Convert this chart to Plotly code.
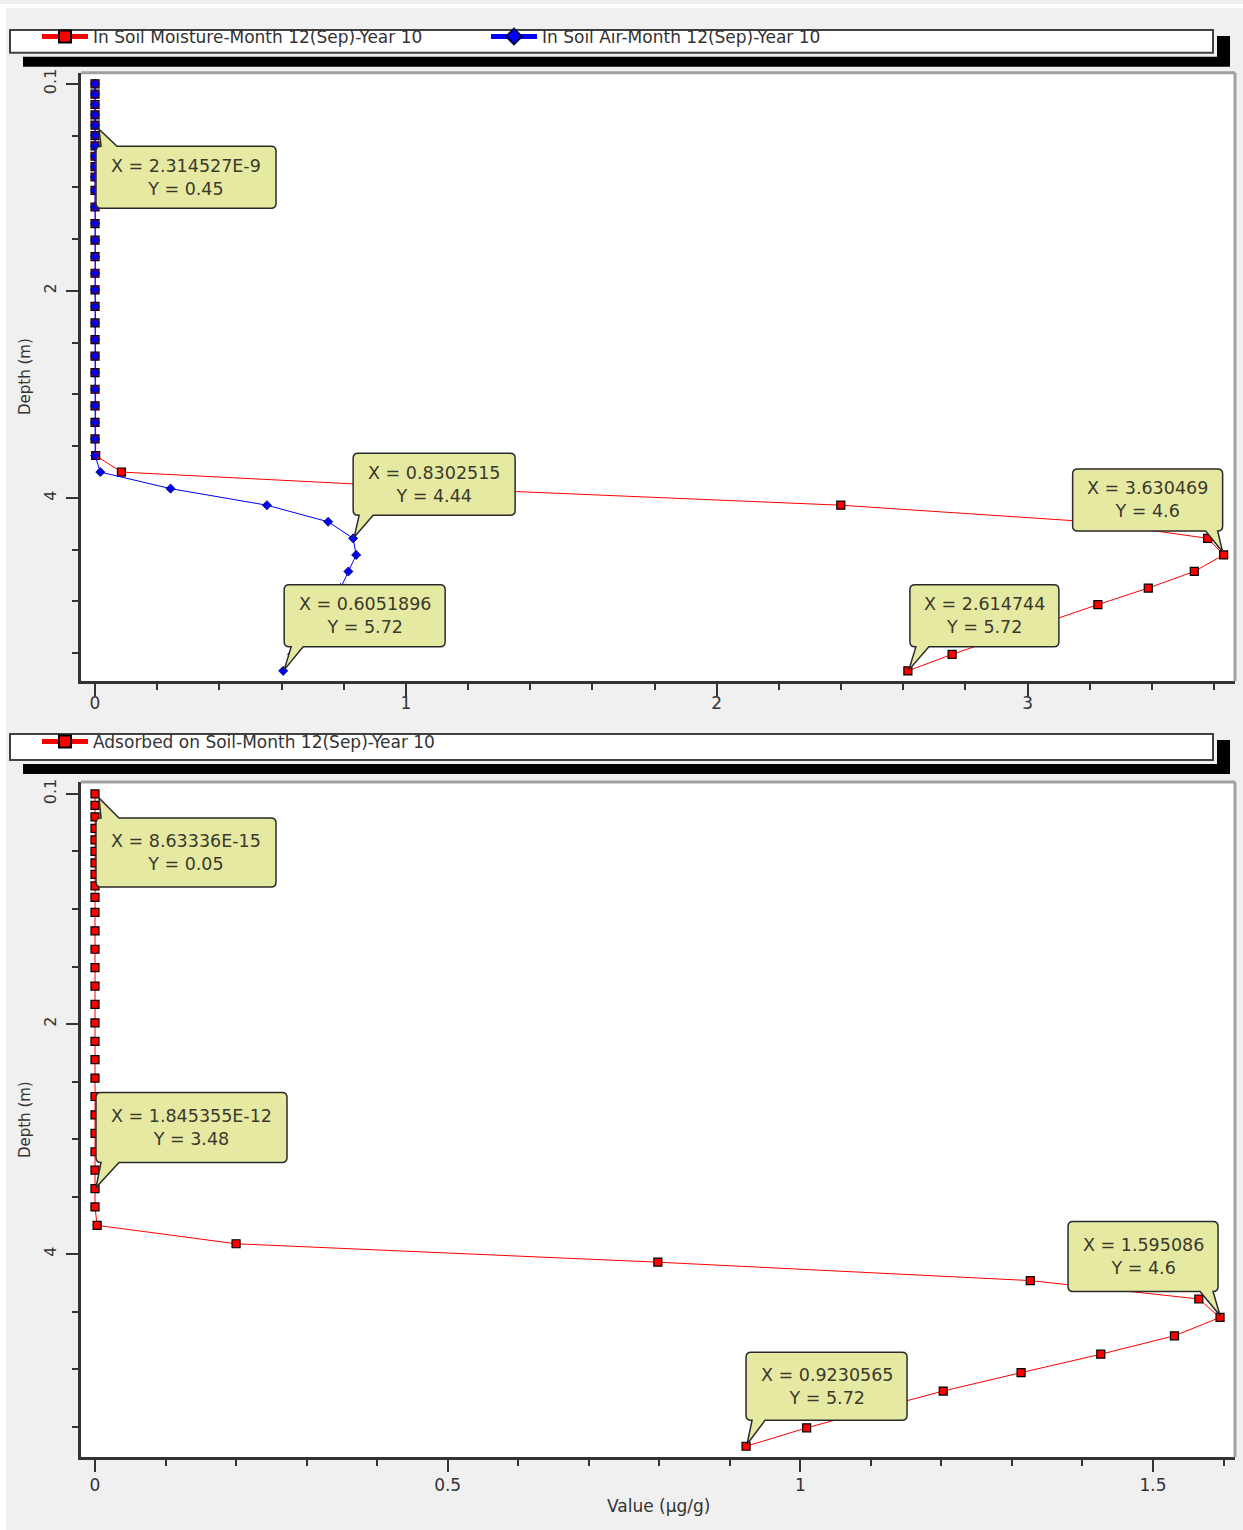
import plotly.graph_objects as go

# ---- data -------------------------------------------------------------
depth_m = [0.05, 0.15, 0.25, 0.35, 0.45, 0.55, 0.65, 0.75, 0.85, 0.95,
           1.08, 1.24, 1.40, 1.56, 1.72, 1.88, 2.04, 2.20, 2.36, 2.52,
           2.68, 2.84, 3.00, 3.16, 3.32, 3.48, 3.64, 3.80, 3.96, 4.12,
           4.28, 4.44, 4.60, 4.76, 4.92, 5.08, 5.24, 5.40, 5.56, 5.72]

soil_moisture = [4.1e-11, 2.2e-10, 6.8e-10, 1.4e-9, 2.314527e-9, 3.5e-9, 4.9e-9, 6.6e-9, 8.5e-9, 1.07e-8,
                 1.38e-8, 1.8e-8, 2.3e-8, 2.9e-8, 3.6e-8, 4.4e-8, 5.4e-8, 6.6e-8, 8.1e-8, 1.0e-7,
                 1.3e-7, 1.8e-7, 2.9e-7, 6.1e-7, 2.4e-6, 3.3e-5, 0.0021, 0.085, 1.13, 2.399,
                 3.20, 3.579, 3.630469, 3.536, 3.388, 3.226, 3.07, 2.915, 2.757, 2.614744]

soil_air = [9.4e-12, 5.0e-11, 1.6e-10, 3.2e-10, 5.3e-10, 8.0e-10, 1.1e-9, 1.5e-9, 1.9e-9, 2.4e-9,
            3.1e-9, 4.1e-9, 5.2e-9, 6.6e-9, 8.2e-9, 1.0e-8, 1.2e-8, 1.5e-8, 1.8e-8, 2.3e-8,
            3.0e-8, 4.1e-8, 6.6e-8, 1.4e-7, 5.5e-7, 7.5e-6, 0.0004, 0.017, 0.243, 0.553,
            0.750, 0.8302515, 0.840, 0.815, 0.790, 0.765, 0.730, 0.685, 0.634, 0.6051896]

adsorbed = [8.63336e-15, 1.05e-14, 1.28e-14, 1.55e-14, 1.88e-14, 2.27e-14, 2.75e-14, 3.33e-14, 4.03e-14, 4.88e-14,
            6.2e-14, 8.1e-14, 1.06e-13, 1.38e-13, 1.8e-13, 2.35e-13, 3.06e-13, 3.99e-13, 5.2e-13, 6.78e-13,
            8.84e-13, 1.05e-12, 1.23e-12, 1.42e-12, 1.62e-12, 1.845355e-12, 2.1e-6, 0.003, 0.200, 0.798,
            1.326, 1.565, 1.595086, 1.5305, 1.426, 1.313, 1.2026, 1.105, 1.009, 0.9230565]

name_moisture = "In Soil Moisture-Month 12(Sep)-Year 10"
name_air = "In Soil Air-Month 12(Sep)-Year 10"
name_adsorbed = "Adsorbed on Soil-Month 12(Sep)-Year 10"

depth_tick_vals = [0.05, 2.05, 4.05]
depth_tick_text = ["0.1", "2", "4"]
top_x_ticks = [0, 1, 2, 3]
bottom_x_ticks = [0, 0.5, 1, 1.5]
bottom_x_text = ["0", "0.5", "1", "1.5"]

# ---- page geometry (pixels) -------------------------------------------
W, H = 1243, 1530
BG = "#f0f0f0"
INK = "#333333"
FONT = "DejaVu Sans"


def px(x):
    return x / W


def py(y):
    return 1 - y / H


fig = go.Figure()

fig.add_trace(go.Scatter(
    x=soil_moisture, y=depth_m, name=name_moisture, mode="lines+markers",
    line=dict(color="#ff0000", width=1),
    marker=dict(symbol="square", size=8, color="#ff0000", line=dict(color="black", width=1.2)),
    xaxis="x", yaxis="y", legend="legend"))
fig.add_trace(go.Scatter(
    x=soil_air, y=depth_m, name=name_air, mode="lines+markers",
    line=dict(color="#0000ff", width=1),
    marker=dict(symbol="diamond", size=7, color="#0000ff", line=dict(color="#000040", width=0.8)),
    xaxis="x", yaxis="y", legend="legend"))
fig.add_trace(go.Scatter(
    x=adsorbed, y=depth_m, name=name_adsorbed, mode="lines+markers",
    line=dict(color="#ff0000", width=1),
    marker=dict(symbol="square", size=8, color="#ff0000", line=dict(color="black", width=1.2)),
    xaxis="x2", yaxis="y2", legend="legend2"))

tick_common = dict(ticks="outside", tickwidth=2, tickcolor=INK, showgrid=False, zeroline=False,
                   showline=True, linecolor=INK, linewidth=3)

fig.update_layout(
    width=W, height=H, margin=dict(l=0, r=0, t=0, b=0),
    paper_bgcolor=BG, plot_bgcolor="white",
    font=dict(family=FONT, color=INK),
    showlegend=True,
    xaxis=dict(domain=[px(81), px(1235)], anchor="y", range=[-0.0451, 3.667],
               tickvals=top_x_ticks, ticklen=12, tickfont=dict(size=17), ticklabelstandoff=-8,
               minor=dict(dtick=0.2, tick0=0, ticklen=6, tickwidth=2, tickcolor=INK, ticks="outside", showgrid=False),
               **tick_common),
    yaxis=dict(domain=[py(679), py(69)], anchor="x", range=[5.82, -0.056],
               tickvals=depth_tick_vals, ticktext=depth_tick_text, tickangle=-90, ticklen=12,
               tickfont=dict(size=16), ticklabelstandoff=4,
               minor=dict(dtick=0.5, tick0=0.05, ticklen=6, tickwidth=2, tickcolor=INK, ticks="outside", showgrid=False),
               **tick_common),
    xaxis2=dict(domain=[px(81), px(1235)], anchor="y2", range=[-0.01985, 1.6163],
                tickvals=bottom_x_ticks, ticktext=bottom_x_text, ticklen=12, tickfont=dict(size=17),
                ticklabelstandoff=-2,
                minor=dict(dtick=0.1, tick0=0, ticklen=6, tickwidth=2, tickcolor=INK, ticks="outside", showgrid=False),
                **tick_common),
    yaxis2=dict(domain=[py(1457), py(780)], anchor="x2", range=[5.815, -0.054],
                tickvals=depth_tick_vals, ticktext=depth_tick_text, tickangle=-90, ticklen=12,
                tickfont=dict(size=16), ticklabelstandoff=4,
                minor=dict(dtick=0.5, tick0=0.05, ticklen=6, tickwidth=2, tickcolor=INK, ticks="outside", showgrid=False),
                **tick_common),
    legend=dict(x=px(37), y=py(33), xanchor="left", yanchor="middle", orientation="h",
                bgcolor="rgba(0,0,0,0)", borderwidth=0, font=dict(size=17, color=INK),
                itemsizing="constant", itemwidth=46, entrywidth=388, entrywidthmode="pixels"),
    legend2=dict(x=px(37), y=py(740), xanchor="left", yanchor="middle", orientation="h",
                 bgcolor="rgba(0,0,0,0)", borderwidth=0, font=dict(size=17, color=INK),
                 itemsizing="constant", itemwidth=46),
)

shapes = []
# white strips at the left and top edges of the window
shapes.append(dict(type="rect", xref="paper", yref="paper", x0=0, x1=px(6), y0=0, y1=1,
                   fillcolor="white", line=dict(width=0), layer="below"))
shapes.append(dict(type="rect", xref="paper", yref="paper", x0=0, x1=1, y0=py(4), y1=1,
                   fillcolor="white", line=dict(width=0), layer="below"))

# legend frames with their black drop shadows
for top, bot in [(26, 49), (732, 758)]:
    shapes.append(dict(type="rect", xref="paper", yref="paper", x0=px(23), x1=px(1230),
                       y0=py(bot + 14), y1=py(top + 6), fillcolor="black", line=dict(width=0)))
    shapes.append(dict(type="rect", xref="paper", yref="paper", x0=px(6), x1=px(1217),
                       y0=py(bot + 4), y1=py(top - 4), fillcolor=BG, line=dict(width=0)))
    shapes.append(dict(type="rect", xref="paper", yref="paper", x0=px(10), x1=px(1213),
                       y0=py(bot), y1=py(top), fillcolor="white", line=dict(color="#404040", width=2)))

# grey top/right frame of each plot area
for xa, ya in [("x", "y"), ("x2", "y2")]:
    shapes.append(dict(type="line", xref=f"{xa} domain", yref=f"{ya} domain", x0=0, x1=1, y0=1, y1=1,
                       line=dict(color="#a0a0a0", width=3)))
    shapes.append(dict(type="line", xref=f"{xa} domain", yref=f"{ya} domain", x0=1, x1=1, y0=0, y1=1,
                       line=dict(color="#a0a0a0", width=3)))


def fmt(v):
    s = f"{v:.7G}"
    return s.replace("E-0", "E-").replace("E+0", "E+")


def callout_path(l, t, r, b, side, b1, b2, tx, ty, rad=5):
    def P(x, y):
        return f"{x},{-y}"
    if side == "bottom":
        return (f"M{P(l + rad, t)} L{P(r - rad, t)} Q{P(r, t)} {P(r, t + rad)} L{P(r, b - rad)} "
                f"Q{P(r, b)} {P(r - rad, b)} L{P(b2, b)} L{P(tx, ty)} L{P(b1, b)} L{P(l + rad, b)} "
                f"Q{P(l, b)} {P(l, b - rad)} L{P(l, t + rad)} Q{P(l, t)} {P(l + rad, t)} Z")
    return (f"M{P(l + rad, t)} L{P(b1, t)} L{P(tx, ty)} L{P(b2, t)} L{P(r - rad, t)} "
            f"Q{P(r, t)} {P(r, t + rad)} L{P(r, b - rad)} Q{P(r, b)} {P(r - rad, b)} "
            f"L{P(l + rad, b)} Q{P(l, b)} {P(l, b - rad)} L{P(l, t + rad)} Q{P(l, t)} {P(l + rad, t)} Z")


# point labels: (series, index, axes, box l/t/r/b relative to the point, tail side, tail base, tip, font size)
callouts = [
    (soil_moisture, 4, ("x", "y"), (1, 21, 181, 83), "top", (6, 22), (4, 4), 17.5),
    (soil_air, 31, ("x", "y"), (0, -85, 162, -23), "bottom", (6, 20), (1, -1), 17.5),
    (soil_air, 39, ("x", "y"), (1, -86, 162, -24), "bottom", (8, 20), (1, -1), 17.5),
    (soil_moisture, 32, ("x", "y"), (-151, -86, -1, -24), "bottom", (-18, -6), (-1, -3), 17.5),
    (soil_moisture, 39, ("x", "y"), (2, -86, 151, -24), "bottom", (8, 21), (1, -1), 17.5),
    (adsorbed, 0, ("x2", "y2"), (1, 24, 181, 93), "top", (6, 24), (4, 4), 17.5),
    (adsorbed, 25, ("x2", "y2"), (1, -96, 192, -26), "bottom", (6, 24), (1, -1), 17.5),
    (adsorbed, 32, ("x2", "y2"), (-152, -96, -2, -26), "bottom", (-20, -7), (0, -2), 17.5),
    (adsorbed, 39, ("x2", "y2"), (0, -94, 161, -26), "bottom", (6, 19), (1, -2), 17.5),
]

annotations = []
for series, i, (xa, ya), (l, t, r, b), side, (b1, b2), (tx, ty), fs in callouts:
    xv, yv = series[i], depth_m[i]
    shapes.append(dict(type="path", xref=xa, yref=ya, xsizemode="pixel", ysizemode="pixel",
                       xanchor=xv, yanchor=yv,
                       path=callout_path(l, t, r, b, side, b1, b2, tx, ty),
                       fillcolor="#e6e9a2", line=dict(color="#2a2a2a", width=1.5), layer="above"))
    annotations.append(dict(x=xv, y=yv, xref=xa, yref=ya, showarrow=False,
                            xanchor="center", yanchor="middle",
                            text=f"X = {fmt(xv)}<br>Y = {fmt(yv)}",
                            xshift=(l + r) / 2, yshift=-(t + b) / 2,
                            font=dict(size=fs, color="#3a3a2c", family=FONT), align="center"))

# axis titles
for yc in (374, 1119):
    annotations.append(dict(x=px(25), y=py(yc), xref="paper", yref="paper", text="Depth (m)", textangle=-90,
                            xanchor="center", yanchor="middle",
                            showarrow=False, font=dict(size=15, color=INK)))
annotations.append(dict(x=px(658), y=py(1506), xref="paper", yref="paper", text="Value (µg/g)",
                        xanchor="center", yanchor="middle",
                        showarrow=False, font=dict(size=17, color=INK)))

fig.update_layout(shapes=shapes, annotations=annotations)
fig.write_html("out.html")
